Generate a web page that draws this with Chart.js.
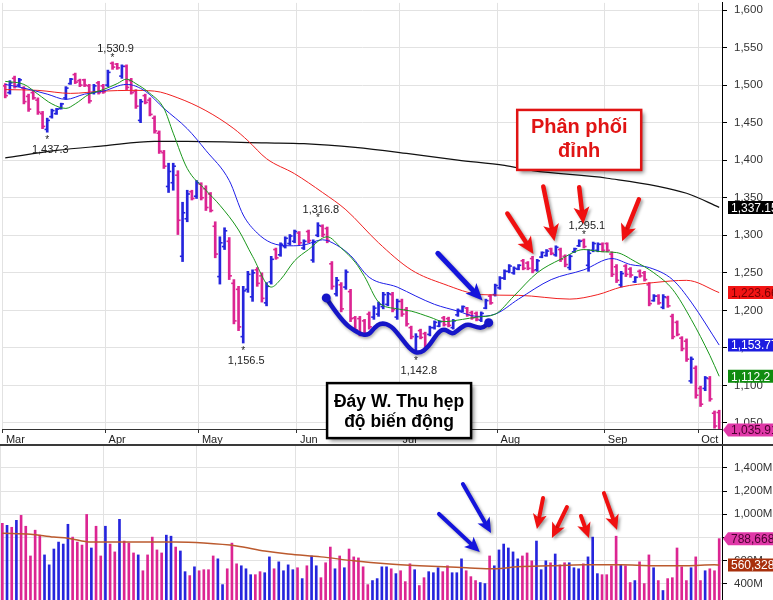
<!DOCTYPE html>
<html>
<head>
<meta charset="utf-8">
<title>Price chart</title>
<script src="https://cdn.jsdelivr.net/npm/chart.js@4.4.1/dist/chart.umd.min.js"></script>
<style>
  body { margin: 0; background: #fff; }
  #wrap { position: relative; width: 773px; height: 600px; overflow: hidden; }
  #price { position: absolute; left: 0; top: 0; }
  #vol { position: absolute; left: 0; top: 446px; }
</style>
</head>
<body>
<div id="wrap">
  <canvas id="price" width="773" height="446" style="width:773px;height:446px"></canvas>
  <canvas id="vol" width="773" height="154" style="width:773px;height:154px"></canvas>
</div>
<script>
'use strict';

// months along the bottom, first trading bar of each month
const months = ['Mar', 'Apr', 'May', 'Jun', 'Jul', 'Aug', 'Sep', 'Oct'];
const monthStart = [0, 22, 42, 63, 85, 106, 129, 149];
const priceTicks = [1050, 1100, 1150, 1200, 1250, 1300, 1350, 1400, 1450, 1500, 1550, 1600];
const volTicks = [400, 600, 800, 1000, 1200, 1400];

// daily bars
const opens = [1499,1490,1509,1500,1496,1485,1490,1480,1462,1441,
  1458,1462,1469,1483,1502,1514,1506,1507,1499,1490,
  1503,1499,1500,1529,1528,1512,1525,1506,1492,1453,
  1486,1480,1456,1436,1410,1365,1370,1380,1272,1322,
  1358,1352,1368,1362,1355,1312,1245,1285,1292,1236,
  1228,1165,1228,1218,1254,1246,1210,1238,1281,1274,
  1285,1289,1292,1303,1283,1305,1267,1300,1312,1309,
  1262,1222,1234,1231,1225,1190,1189,1186,1195,1191,
  1195,1205,1208,1221,1191,1212,1201,1177,1146,1173,
  1169,1168,1177,1179,1190,1189,1177,1194,1199,1203,
  1197,1196,1187,1203,1219,1221,1230,1243,1252,1250,
  1255,1266,1263,1269,1254,1271,1273,1282,1274,1281,
  1272,1257,1278,1286,1293,1260,1280,1280,1288,1289,
  1275,1258,1234,1259,1255,1238,1252,1250,1234,1213,
  1219,1204,1217,1192,1184,1163,1159,1106,1123,1096,
  1096,1109,1063,1064];
const highs = [1502,1506,1512,1509,1498,1488,1492,1483,1465,1456,
  1468,1469,1476,1498,1509,1516,1508,1508,1501,1501,
  1505,1501,1520,1530.9,1529,1527,1527,1509,1494,1481,
  1488,1483,1459,1439,1413,1396,1396,1386,1344,1360,
  1360,1373,1370,1366,1357,1318,1298,1310,1297,1241,
  1232,1232,1252,1254,1257,1250,1237,1272,1283,1290,
  1298,1301,1307,1305,1294,1307,1294,1316.8,1314,1311,
  1265,1244,1237,1254,1228,1192,1192,1188,1198,1206,
  1211,1224,1224,1224,1215,1215,1204,1179,1169,1175,
  1171,1179,1186,1186,1192,1191,1188,1202,1206,1204,
  1199,1198,1198,1215,1221,1235,1245,1254,1261,1258,
  1261,1268,1265,1272,1268,1278,1281,1283,1286,1283,
  1274,1274,1283,1294,1295.1,1281,1291,1290,1290,1290,
  1278,1261,1252,1261,1257,1245,1254,1252,1237,1221,
  1221,1221,1219,1195,1186,1165,1162,1138,1126,1099,
  1112,1112,1066,1067];
const lows = [1483,1488,1496,1498,1475,1465,1481,1461,1442,1437.3,
  1456,1461,1468,1481,1501,1502,1498,1498,1476,1488,
  1488,1489,1498,1521,1521,1509,1494,1488,1469,1450,
  1475,1459,1436,1409,1389,1357,1360,1301,1265,1318,
  1347,1349,1347,1333,1331,1270,1235,1281,1241,1182,
  1173,1156.5,1224,1212,1232,1211,1206,1235,1268,1272,
  1283,1287,1290,1287,1281,1290,1264,1298,1298,1290,
  1228,1219,1198,1228,1185,1171,1166,1166,1175,1188,
  1192,1202,1206,1198,1188,1192,1179,1162,1142.8,1162,
  1149,1166,1175,1178,1179,1178,1175,1192,1198,1192,
  1188,1186,1185,1202,1208,1219,1228,1241,1250,1248,
  1254,1254,1254,1250,1252,1270,1272,1274,1272,1265,
  1258,1254,1277,1285,1283,1252,1278,1278,1278,1278,
  1245,1237,1231,1245,1244,1237,1244,1239,1206,1212,
  1208,1202,1204,1162,1166,1146,1132,1103,1083,1072,
  1093,1079,1043,1030];
const closes = [1486,1503,1498,1507,1478,1468,1483,1464,1445,1453,
  1466,1468,1475,1496,1508,1504,1500,1500,1479,1499,
  1490,1491,1517,1524,1523,1525,1497,1490,1472,1478,
  1477,1461,1439,1412,1392,1385,1392,1320,1330,1355,
  1349,1370,1350,1337,1333,1275,1290,1306,1246,1186,
  1178,1226,1248,1250,1236,1216,1232,1268,1270,1288,
  1296,1299,1305,1290,1292,1293,1291,1313,1301,1293,
  1232,1240,1202,1251,1189,1174,1169,1169,1178,1203,
  1208,1221,1222,1201,1212,1195,1182,1165,1165,1164,
  1152,1177,1184,1185,1181,1180,1186,1200,1205,1194,
  1190,1188,1196,1213,1210,1233,1243,1252,1259,1256,
  1260,1256,1256,1253,1266,1277,1279,1276,1284,1268,
  1261,1272,1282,1292,1285,1276,1289,1288,1280,1280,
  1248,1240,1249,1248,1247,1244,1246,1241,1209,1219,
  1210,1218,1206,1165,1168,1149,1135,1135,1087,1075,
  1110,1082,1046,1035.91];

// volume, millions of shares
const volumes = [921,904,887,947,990,896,639,862,819,648,
  562,699,759,742,913,802,759,733,998,708,
  896,639,896,742,674,956,768,750,665,648,
  511,648,802,691,665,819,810,716,682,503,
  469,545,511,520,520,639,614,391,528,750,
  571,554,528,477,477,503,494,631,528,588,
  511,562,520,537,443,554,639,554,451,580,
  716,528,639,537,699,631,622,545,391,426,
  443,545,545,528,486,511,417,571,520,383,
  451,503,494,537,503,554,494,494,614,511,
  460,426,409,400,639,554,691,742,708,674,
  614,639,665,597,768,520,597,580,656,562,
  580,580,537,528,571,631,802,486,477,477,
  554,810,562,554,409,426,588,400,648,537,
  426,340,443,451,708,545,426,537,631,426,
  511,528,511,788.668];

// moving averages, read at sample bars
const blackIdx = [0,11,21,32,39,56,64,75,86,97,107,113,129,146,153];
const blackMa = [1403,1413,1419,1425,1425,1423,1422,1417,1409,1400,1393,1386,1376,1356,1337.15];
const redIdx = [0,7,14,21,27,32,37,43,49,52,56,62,68,73,80,87,94,102,110,121,127,132,139,146,153];
const redMa = [1494,1493,1489,1492,1493,1492,1483,1466,1442,1426,1402,1382,1357,1334,1290,1254,1235,1221,1220,1215,1221,1231,1237,1240,1223.66];
const blueIdx = [0,4,9,13,17,21,26,30,34,39,43,48,51,54,57,61,64,68,71,74,78,84,88,92,97,101,105,110,117,124,130,134,138,143,147,153];
const blueMa = [1501,1496,1488,1481,1488,1492,1501,1492,1469,1442,1413,1373,1327,1303,1290,1286,1287,1294,1287,1273,1244,1231,1219,1208,1199,1192,1195,1215,1241,1254,1269,1261,1257,1241,1211,1153.77];
const greenIdx = [0,4,7,10,13,15,18,21,24,26,28,31,34,36,39,43,46,50,53,57,59,62,65,69,72,75,77,80,84,87,91,94,98,101,105,109,114,119,124,128,131,135,139,143,147,151,153];
const greenMa = [1505,1501,1488,1475,1469,1475,1488,1494,1502,1508,1502,1489,1469,1436,1389,1360,1340,1307,1272,1231,1241,1266,1281,1298,1283,1264,1245,1211,1202,1199,1191,1185,1188,1191,1195,1219,1250,1268,1281,1278,1277,1265,1250,1228,1188,1140,1112.2];
const volMaIdx = [0,6,11,14,19,25,30,37,43,50,56,61,68,75,82,89,99,105,110,117,124,132,139,146,152,153];
const volMa = [836,827,802,793,759,759,759,759,750,725,682,656,631,597,571,554,537,528,545,554,562,562,554,554,562,560.328];

// marked highs / lows
const peakIdx = [9, 23, 51, 67, 88, 124];
const peakVal = [1437.3, 1530.9, 1156.5, 1316.8, 1142.8, 1295.1];
const peakHigh = [false, true, false, true, false, true];

// hand drawn notes (bar index, price / volume)
const wCurve = [[68.8,1216.6],[72.0,1186.2],[75.7,1169.0],[77.8,1166.4],[79.1,1176.9],[80.6,1183.6],
  [82.7,1179.6],[84.8,1163.7],[87.0,1146.5],[88.7,1142.5],[90.6,1150.5],[92.7,1170.3],[94.0,1175.6],
  [95.3,1170.3],[96.1,1169.0],[97.6,1176.9],[99.1,1182.2],[101.2,1176.9],[102.5,1176.9],[103.6,1183.6]];
const priceBlueArrows = [[92.7,1276,102.3,1213]];
const priceRedArrows = [[107.6,1329,113.2,1275],[115.3,1365,117.7,1292],[123.0,1364,123.9,1315],[135.8,1348,132.2,1292]];
const volBlueArrows = [[93.2,1002,101.9,673],[98.3,1261,104.3,837]];
const volRedArrows = [[115.4,1140,114.1,872],[120.5,1062,117.3,794],[123.5,985,125.2,794],[128.4,1183,131.2,863]];

const UP = '#2525dd';
const DOWN = '#dc2592';
const GRID = '#e2e2e2';
const FONT = '"Liberation Sans", Arial, sans-serif';
Chart.defaults.font.family = FONT;

const barColors = closes.map((c, i) => (c >= opens[i] ? UP : DOWN));

function series(idx, vals) {
  return idx.map((v, k) => ({x: v, y: vals[k]}));
}

function maLine(idx, vals, color, width) {
  return {
    type: 'line',
    data: series(idx, vals),
    borderColor: color,
    borderWidth: width,
    pointRadius: 0,
    cubicInterpolationMode: 'monotone',
  };
}

function drawArrow(ctx, x1, y1, x2, y2, color, lw, hl, hw) {
  const a = Math.atan2(y2 - y1, x2 - x1);
  const bx = x2 - hl * Math.cos(a);
  const by = y2 - hl * Math.sin(a);
  const nx = x2 - hl * 0.75 * Math.cos(a);
  const ny = y2 - hl * 0.75 * Math.sin(a);
  ctx.save();
  ctx.shadowColor = 'rgba(0,0,0,0.35)';
  ctx.shadowBlur = 3;
  ctx.shadowOffsetX = 2;
  ctx.shadowOffsetY = 2;
  ctx.strokeStyle = color;
  ctx.fillStyle = color;
  ctx.lineWidth = lw;
  ctx.lineCap = 'round';
  ctx.beginPath();
  ctx.moveTo(x1, y1);
  ctx.lineTo(nx, ny);
  ctx.stroke();
  ctx.beginPath();
  ctx.moveTo(x2, y2);
  ctx.lineTo(bx + hw / 2 * Math.sin(a), by - hw / 2 * Math.cos(a));
  ctx.lineTo(nx, ny);
  ctx.lineTo(bx - hw / 2 * Math.sin(a), by + hw / 2 * Math.cos(a));
  ctx.closePath();
  ctx.fill();
  ctx.restore();
}

function valueTag(chart, yPix, text, bg, fg, pointed) {
  const ctx = chart.ctx;
  const left = chart.chartArea.right;
  const x0 = left + 6;
  const h = 13;
  ctx.save();
  ctx.fillStyle = bg;
  ctx.beginPath();
  if (pointed) {
    ctx.moveTo(left + 1, yPix);
    ctx.lineTo(x0, yPix - h / 2);
  } else {
    ctx.moveTo(x0, yPix - h / 2);
  }
  ctx.lineTo(chart.width, yPix - h / 2);
  ctx.lineTo(chart.width, yPix + h / 2);
  ctx.lineTo(x0, yPix + h / 2);
  ctx.closePath();
  ctx.fill();
  ctx.fillStyle = fg;
  ctx.font = '12px ' + FONT;
  ctx.textAlign = 'left';
  ctx.textBaseline = 'middle';
  ctx.fillText(text, x0 + 3, yPix + 1);
  ctx.restore();
}

function noteBox(ctx, cx, cy, w, h, lines, base, color, size) {
  const l = cx - w / 2;
  const t = cy - h / 2;
  ctx.save();
  ctx.shadowColor = 'rgba(0,0,0,0.45)';
  ctx.shadowBlur = 4;
  ctx.shadowOffsetX = 3;
  ctx.shadowOffsetY = 3;
  ctx.fillStyle = '#fff';
  ctx.fillRect(l, t, w, h);
  ctx.restore();
  ctx.save();
  ctx.strokeStyle = color;
  ctx.lineWidth = 2.5;
  ctx.strokeRect(l, t, w, h);
  ctx.fillStyle = color;
  ctx.font = 'bold ' + size + 'px ' + FONT;
  ctx.textAlign = 'center';
  ctx.textBaseline = 'alphabetic';
  lines.forEach((s, k) => ctx.fillText(s, cx, t + base[k]));
  ctx.restore();
}

const fmt = v => v.toLocaleString('en-US', {maximumFractionDigits: 2});

const priceExtras = {
  id: 'priceExtras',
  afterDraw(chart) {
    const {ctx, chartArea} = chart;
    const x = chart.scales.x;
    const y = chart.scales.y;
    const px = i => x.getPixelForValue(i);
    const py = v => y.getPixelForValue(v);

    // labels on marked highs and lows
    ctx.save();
    ctx.fillStyle = '#222';
    ctx.textAlign = 'center';
    ctx.textBaseline = 'middle';
    peakIdx.forEach((i, k) => {
      const bx = px(i);
      const by = py(peakVal[k]);
      const dir = peakHigh[k] ? -1 : 1;
      ctx.font = '10px ' + FONT;
      ctx.fillText('*', bx, by + dir * 6 + 2);
      ctx.font = '11px ' + FONT;
      ctx.fillText(peakVal[k].toLocaleString('en-US', {minimumFractionDigits: 1}), bx + 3, by + dir * (peakHigh[k] ? 13 : 18));
    });
    ctx.restore();

    // W bottom outline
    ctx.save();
    ctx.shadowColor = 'rgba(0,0,0,0.3)';
    ctx.shadowBlur = 3;
    ctx.shadowOffsetX = 1;
    ctx.shadowOffsetY = 2;
    ctx.strokeStyle = '#1616c8';
    ctx.fillStyle = '#1616c8';
    ctx.lineWidth = 4.5;
    ctx.lineJoin = 'round';
    ctx.lineCap = 'round';
    const pts = wCurve.map(p => [px(p[0]), py(p[1])]);
    ctx.beginPath();
    ctx.moveTo(pts[0][0], pts[0][1]);
    for (let k = 1; k < pts.length - 1; k++) {
      const mx = (pts[k][0] + pts[k + 1][0]) / 2;
      const my = (pts[k][1] + pts[k + 1][1]) / 2;
      ctx.quadraticCurveTo(pts[k][0], pts[k][1], mx, my);
    }
    ctx.lineTo(pts[pts.length - 1][0], pts[pts.length - 1][1]);
    ctx.stroke();
    [pts[0], pts[pts.length - 1]].forEach(p => {
      ctx.beginPath();
      ctx.arc(p[0], p[1], 4.5, 0, Math.PI * 2);
      ctx.fill();
    });
    ctx.restore();

    priceBlueArrows.forEach(a => drawArrow(ctx, px(a[0]), py(a[1]), px(a[2]), py(a[3]), '#1414dc', 5, 17, 15));
    priceRedArrows.forEach(a => drawArrow(ctx, px(a[0]), py(a[1]), px(a[2]), py(a[3]), '#f01010', 4.5, 17, 16));

    noteBox(ctx, px(123.0), py(1427), 124, 60, ['Phân phối', 'đỉnh'], [23, 47], '#e01414', 20);
    noteBox(ctx, px(84.4), py(1066.5), 144, 55, ['Đáy W. Thu hẹp', 'độ biến động'], [24, 44], '#000', 17.5);

    // axis line through the date strip and panel divider
    ctx.save();
    ctx.fillStyle = '#000';
    ctx.fillRect(chartArea.right, chartArea.bottom, 1, chart.height - chartArea.bottom);
    ctx.fillStyle = '#3a3a3a';
    ctx.fillRect(0, chart.height - 2, chart.width, 2);
    ctx.restore();

    // last values on the price axis
    const last = closes.length - 1;
    valueTag(chart, py(blackMa[blackMa.length - 1]), fmt(blackMa[blackMa.length - 1]), '#000', '#fff', false);
    valueTag(chart, py(redMa[redMa.length - 1]), fmt(redMa[redMa.length - 1]), '#f21414', '#7a0000', false);
    valueTag(chart, py(blueMa[blueMa.length - 1]), fmt(blueMa[blueMa.length - 1]), '#1c1ce0', '#fff', false);
    valueTag(chart, py(greenMa[greenMa.length - 1]), fmt(greenMa[greenMa.length - 1]), '#0f8c0f', '#fff', false);
    valueTag(chart, Math.min(py(closes[last]), chartArea.bottom + 1), fmt(closes[last]), '#e038a8', '#4a0030', true);
  }
};

const volExtras = {
  id: 'volExtras',
  afterDraw(chart) {
    const ctx = chart.ctx;
    const x = chart.scales.x;
    const y = chart.scales.y;
    const px = i => x.getPixelForValue(i);
    const py = v => y.getPixelForValue(v);
    volBlueArrows.forEach(a => drawArrow(ctx, px(a[0]), py(a[1]), px(a[2]), py(a[3]), '#1414dc', 4, 15, 14));
    volRedArrows.forEach(a => drawArrow(ctx, px(a[0]), py(a[1]), px(a[2]), py(a[3]), '#f01010', 4, 15, 14));
    const lastVol = volumes[volumes.length - 1];
    const lastMa = volMa[volMa.length - 1];
    valueTag(chart, py(lastVol), Math.round(lastVol * 1e6).toLocaleString('en-US'), '#e038a8', '#4a0030', true);
    valueTag(chart, py(lastMa), Math.round(lastMa * 1e6).toLocaleString('en-US'), '#a8300c', '#fff', false);
  }
};

function xScale(showLabels) {
  return {
    type: 'linear',
    min: -0.5,
    max: 153.6,
    offset: false,
    grid: {color: GRID, offset: false, drawTicks: showLabels, tickLength: 4, tickColor: '#333'},
    border: {display: showLabels, color: '#333'},
    ticks: {
      display: showLabels,
      align: 'start',
      labelOffset: 3,
      padding: 0,
      autoSkip: false,
      maxRotation: 0,
      color: '#222',
      font: {size: 11},
      callback: v => months[monthStart.indexOf(v + 0.5)]
    },
    afterBuildTicks: s => { s.ticks = monthStart.map(m => ({value: m - 0.5})); },
    afterFit: s => {
      s.height = showLabels ? 17 : 0;
      s.paddingLeft = 0;
      s.paddingRight = 0;
    }
  };
}

function yScale(min, max, ticks, label) {
  return {
    position: 'right',
    min: min,
    max: max,
    grid: {color: GRID, tickColor: '#000', tickLength: 5},
    border: {color: '#000'},
    ticks: {padding: 7, autoSkip: false, color: '#333', font: {size: 11.5}, callback: label},
    afterBuildTicks: s => { s.ticks = ticks.map(v => ({value: v})); },
    afterFit: s => {
      s.width = 51;
      s.paddingTop = 0;
      s.paddingBottom = 0;
    }
  };
}

const baseOptions = {
  responsive: false,
  animation: false,
  layout: {padding: 0},
  plugins: {legend: {display: false}, tooltip: {enabled: false}}
};

new Chart(document.getElementById('price').getContext('2d'), {
  type: 'bar',
  data: {
    datasets: [
      maLine(greenIdx, greenMa, '#18961a', 1),
      maLine(blueIdx, blueMa, '#1e1ee8', 1),
      maLine(redIdx, redMa, '#f02020', 1),
      maLine(blackIdx, blackMa, '#111', 1.2),
      {
        type: 'line',
        showLine: false,
        data: closes.map((c, i) => ({x: i + 0.3, y: c})),
        pointStyle: 'line',
        pointRadius: 1.3,
        pointBorderWidth: 1.6,
        pointBorderColor: barColors,
        pointHoverRadius: 0
      },
      {
        type: 'line',
        showLine: false,
        data: opens.map((o, i) => ({x: i - 0.3, y: o})),
        pointStyle: 'line',
        pointRadius: 1.3,
        pointBorderWidth: 1.6,
        pointBorderColor: barColors,
        pointHoverRadius: 0
      },
      {
        type: 'bar',
        data: highs.map((h, i) => ({x: i, y: [lows[i], h]})),
        backgroundColor: barColors,
        barThickness: 2,
        borderWidth: 0
      }
    ]
  },
  options: Object.assign({}, baseOptions, {
    scales: {
      x: xScale(true),
      y: yScale(1042, 1609.5, priceTicks, v => v.toLocaleString('en-US'))
    }
  }),
  plugins: [priceExtras]
});

new Chart(document.getElementById('vol').getContext('2d'), {
  type: 'bar',
  data: {
    datasets: [
      maLine(volMaIdx, volMa, '#bb5a2e', 1.5),
      {
        type: 'bar',
        data: volumes.map((v, i) => ({x: i, y: v})),
        backgroundColor: barColors,
        barThickness: 2,
        borderWidth: 0
      }
    ]
  },
  options: Object.assign({}, baseOptions, {
    scales: {
      x: xScale(false),
      y: yScale(258, 1590, volTicks, v => v.toLocaleString('en-US') + 'M')
    }
  }),
  plugins: [volExtras]
});
</script>
</body>
</html>
